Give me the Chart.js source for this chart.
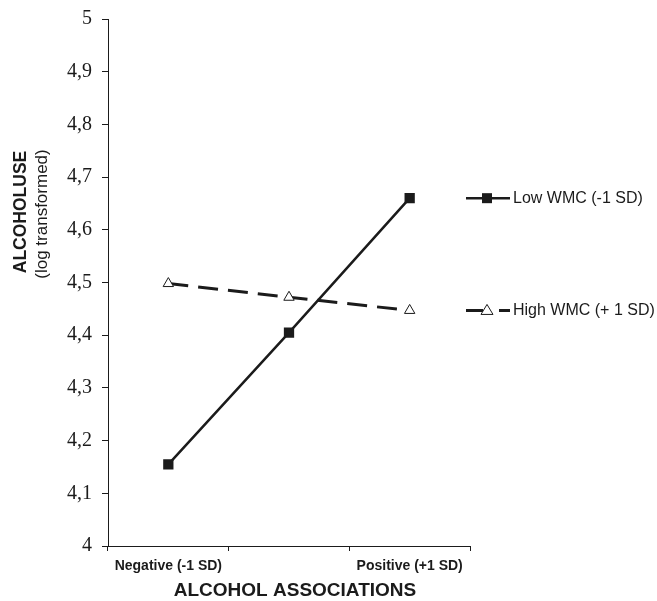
<!DOCTYPE html>
<html>
<head>
<meta charset="utf-8">
<script src="https://cdn.jsdelivr.net/npm/chart.js@4"></script>
<style>
  body { margin: 0; background: #fff; }
  #wrap { width: 657px; height: 601px; }
</style>
</head>
<body>
<div id="wrap"><canvas id="chart" width="657" height="601"></canvas></div>
<script>
// data
const categories = ["Negative (-1 SD)", "", "Positive (+1 SD)"];
const lowWmc = [4.155, 4.405, 4.66];
const highWmc = [4.498, 4.472, 4.447];
const seriesNames = ["Low WMC (-1 SD)", "High WMC (+ 1 SD)"];
const yMin = 4, yMax = 5, yStep = 0.1;

const ink = "#1b1b1b";

// axis titles: y has two lines (bold + regular)
const axisTitles = {
  id: "axisTitles",
  afterDraw(chart) {
    const ctx = chart.ctx;
    ctx.save();
    ctx.fillStyle = ink;
    ctx.textAlign = "center";
    ctx.textBaseline = "middle";
    ctx.font = "bold 19px 'Liberation Sans', Arial, sans-serif";
    ctx.fillText("ALCOHOL ASSOCIATIONS", 295, 591);

    ctx.translate(21, 212);
    ctx.rotate(-Math.PI / 2);
    ctx.font = "bold 17.5px 'Liberation Sans', Arial, sans-serif";
    ctx.fillText("ALCOHOLUSE", 0, 0);
    ctx.font = "17px 'Liberation Sans', Arial, sans-serif";
    ctx.fillText("(log transformed)", -2, 21);
    ctx.restore();
  }
};

// legend entries next to the last point of each line
const sideLegend = {
  id: "sideLegend",
  afterDraw(chart) {
    const ctx = chart.ctx;
    const y = chart.scales.y;
    chart.data.datasets.forEach((ds, i) => {
      const py = y.getPixelForValue(ds.data[ds.data.length - 1]);
      ctx.save();
      ctx.strokeStyle = ink;
      ctx.lineWidth = ds.borderWidth;
      ctx.setLineDash(ds.borderDash ? [17, 16] : []);
      ctx.beginPath();
      ctx.moveTo(466, py);
      ctx.lineTo(510, py);
      ctx.stroke();
      ctx.setLineDash([]);
      ctx.lineWidth = 1;
      const mx = 487;
      if (ds.pointStyle === "rect") {
        ctx.fillStyle = ink;
        ctx.fillRect(mx - 5, py - 5, 10, 10);
      } else {
        ctx.fillStyle = "#fff";
        ctx.beginPath();
        ctx.moveTo(mx, py - 6);
        ctx.lineTo(mx + 6, py + 4);
        ctx.lineTo(mx - 6, py + 4);
        ctx.closePath();
        ctx.fill();
        ctx.stroke();
      }
      ctx.fillStyle = ink;
      ctx.font = "16px 'Liberation Sans', Arial, sans-serif";
      ctx.textAlign = "left";
      ctx.textBaseline = "middle";
      ctx.fillText(seriesNames[i], 513, py);
      ctx.restore();
    });
  }
};

new Chart(document.getElementById("chart"), {
  type: "line",
  data: {
    labels: categories,
    datasets: [
      {
        label: seriesNames[0],
        data: lowWmc,
        borderColor: ink,
        borderWidth: 2.5,
        pointStyle: "rect",
        pointRadius: 5.5,
        pointBackgroundColor: ink,
        pointBorderColor: ink,
        tension: 0
      },
      {
        label: seriesNames[1],
        data: highWmc,
        borderColor: ink,
        borderWidth: 3,
        borderDash: [20, 10],
        pointStyle: "triangle",
        pointRadius: 6,
        pointBorderWidth: 1,
        pointBackgroundColor: "#fff",
        pointBorderColor: ink,
        tension: 0
      }
    ]
  },
  options: {
    responsive: false,
    animation: false,
    layout: { padding: { left: 0, right: 187, top: 19, bottom: 0 } },
    plugins: { legend: { display: false }, tooltip: { enabled: false } },
    scales: {
      x: {
        offset: true,
        grid: { offset: true, drawOnChartArea: false, tickLength: 5, color: ink },
        border: { color: ink, width: 1 },
        ticks: {
          color: ink,
          padding: 7,
          maxRotation: 0,
          autoSkip: false,
          font: { family: "'Liberation Sans', Arial, sans-serif", size: 14, weight: "bold" }
        },
        afterFit(scale) { scale.height = 55; }
      },
      y: {
        min: yMin,
        max: yMax,
        grid: { drawOnChartArea: false, tickLength: 6, color: ink },
        border: { color: ink, width: 1 },
        ticks: {
          stepSize: yStep,
          color: ink,
          padding: 10,
          font: { family: "'Liberation Serif', 'Times New Roman', serif", size: 20 },
          callback: v => String(Math.round(v * 10) / 10).replace(".", ",")
        },
        afterFit(scale) {
          scale.width = 108;
          scale.paddingTop = 0;
          scale.paddingBottom = 0;
        }
      }
    }
  },
  plugins: [axisTitles, sideLegend]
});
</script>
</body>
</html>
